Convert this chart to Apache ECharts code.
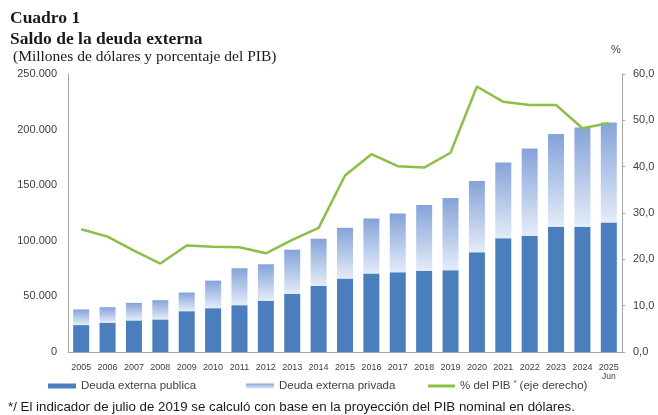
<!DOCTYPE html>
<html><head><meta charset="utf-8">
<script src="https://cdn.jsdelivr.net/npm/echarts@6/dist/echarts.min.js"></script>
<style>html,body{margin:0;padding:0;background:#fff}#c{width:658px;height:415px}</style>
</head><body><div id="c"></div>
<script>
const years = ['2005','2006','2007','2008','2009','2010','2011','2012','2013','2014','2015','2016','2017','2018','2019','2020','2021','2022','2023','2024','2025'];
const publica = [24.2,26.3,28.4,29.3,36.7,39.4,42.1,46.0,52.3,59.4,66.0,70.5,71.7,72.9,73.5,89.6,102.2,104.5,112.6,112.6,116.5].map(v=>v*1000);
const total = [38.3,40.3,44.2,46.6,53.5,64.2,75.3,78.9,92.0,101.9,111.7,120.1,124.5,132.3,138.6,153.8,170.5,183.1,196.0,201.9,206.4].map(v=>v*1000);
const privada = total.map((t,i)=>t-publica[i]);
const pctPIB = [26.5,24.9,21.9,19.1,23.0,22.7,22.6,21.3,24.2,26.8,38.1,42.7,40.1,39.8,43.0,57.3,54.0,53.3,53.3,48.3,49.4];
const leftTicks = {min:0,max:250000,interval:50000};
const rightTicks = {min:0,max:60,interval:10};
const lastNote = 'Jun';

const chart = echarts.init(document.getElementById('c'));
const sans = 'Liberation Sans, Arial, sans-serif';
const serif = 'Liberation Serif, Times New Roman, serif';
const axisFont = {fontFamily:sans, color:'#404040', fontSize:11};
const legendText = {fontFamily:sans, fontSize:11.5, color:'#404040'};
chart.setOption({
  animation:false,
  backgroundColor:'#fff',
  title:[
    {text:'Cuadro 1', left:10, top:9, padding:0, textStyle:{fontFamily:serif, fontWeight:'bold', fontSize:17.5, color:'#1a1a1a'}},
    {text:'Saldo de la deuda externa', left:10, top:30, padding:0, textStyle:{fontFamily:serif, fontWeight:'bold', fontSize:17.5, color:'#1a1a1a'}},
    {text:'(Millones de dólares y porcentaje del PIB)', left:13, top:49, padding:0, textStyle:{fontFamily:serif, fontWeight:'normal', fontSize:15.5, color:'#1a1a1a'}},
    {text:'%', left:611, top:44, padding:0, textStyle:Object.assign({}, axisFont, {fontWeight:'normal'})},
    {text:'*/ El indicador de julio de 2019 se calculó con base en la proyección del PIB nominal en dólares.', left:8, top:401, padding:0, textStyle:{fontFamily:sans, fontWeight:'normal', fontSize:13.3, color:'#1a1a1a'}}
  ],
  grid:{left:68, right:36, top:74, bottom:63},
  legend:[
    {data:['Deuda externa publica'], left:48, top:380, padding:0, icon:'rect', itemWidth:28, itemHeight:5, itemGap:3, textStyle:legendText},
    {data:['Deuda externa privada'], left:246, top:380, padding:0, icon:'rect', itemWidth:28, itemHeight:5, itemGap:3, textStyle:legendText},
    {data:['% del PIB * (eje derecho)'], left:428, top:380, padding:0, icon:'rect', itemWidth:27, itemHeight:3, itemGap:2,
      formatter:function(n){return '% del PIB {s|*} (eje derecho)';},
      textStyle:Object.assign({}, legendText, {rich:{s:{fontFamily:sans, fontSize:7, verticalAlign:'top', padding:[0,0,5,0], color:'#404040'}}})}
  ],
  xAxis:{type:'category', data:years,
    axisLine:{lineStyle:{color:'#a6a6a6'}}, axisTick:{show:false},
    axisLabel:{fontFamily:sans, fontSize:9, color:'#404040', margin:11, interval:0,
      formatter:function(v){return v==='2025' ? v+'\n{j|'+lastNote+'}' : v;},
      rich:{j:{fontFamily:sans, fontSize:8.5, color:'#404040', padding:[0,0,0,0], lineHeight:9}}}},
  yAxis:[
    {type:'value', min:leftTicks.min, max:leftTicks.max, interval:leftTicks.interval, splitLine:{show:false},
      axisLine:{show:true, lineStyle:{color:'#a6a6a6'}}, axisTick:{show:false},
      axisLabel:Object.assign({margin:11, formatter:function(v){return v===0?'0':v.toLocaleString('de-DE');}}, axisFont)},
    {type:'value', min:rightTicks.min, max:rightTicks.max, interval:rightTicks.interval, splitLine:{show:false},
      axisLine:{show:true, lineStyle:{color:'#a6a6a6'}}, axisTick:{show:true, length:3, lineStyle:{color:'#a6a6a6'}},
      axisLabel:Object.assign({margin:11, formatter:function(v){return v.toFixed(1).replace('.',',');}}, axisFont)}
  ],
  series:[
    {name:'Deuda externa publica', type:'bar', stack:'d', data:publica, barWidth:16, itemStyle:{color:'#4a7ebd'}},
    {name:'Deuda externa privada', type:'bar', stack:'d', data:privada, barWidth:16,
      itemStyle:{color:new echarts.graphic.LinearGradient(0,0,0,1,[{offset:0,color:'#85a3d9'},{offset:1,color:'#e4ecf8'}])}},
    {name:'% del PIB * (eje derecho)', type:'line', yAxisIndex:1, data:pctPIB, symbol:'none',
      lineStyle:{color:'#8cbf45', width:2.5}, itemStyle:{color:'#8cbf45'}}
  ]
});
</script></body></html>
